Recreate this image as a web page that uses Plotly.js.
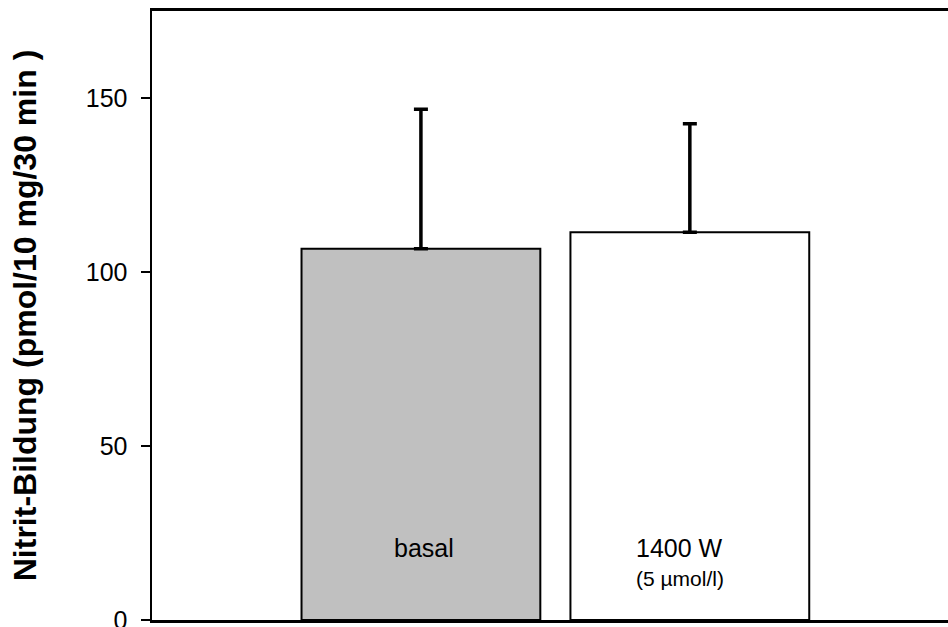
<!DOCTYPE html>
<html>
<head>
<meta charset="utf-8">
<script src="https://cdn.plot.ly/plotly-3.0.1.min.js"></script>
<style>html,body{margin:0;padding:0;background:#fff}#chart{width:948px;height:627px}</style>
</head>
<body>
<div id="chart"></div>
<script>
var categories = ["basal", "1400 W"];
var subLabels = ["", "(5 µmol/l)"];
var means = [106.7, 111.4];
var sdUp = [40.1, 31.2];
var barColors = ["#c0c0c0", "#ffffff"];
var yTicks = [0, 50, 100, 150];

var xPos = categories.map(function(c, i){ return i; });
var FONT = "Liberation Sans, Arial, sans-serif";

var trace = {
  type: "bar",
  x: xPos,
  y: means,
  width: 0.888,
  marker: {color: barColors, line: {color: "#000", width: 2}},
  error_y: {type: "data", symmetric: false, array: sdUp, arrayminus: [0, 0], color: "#000", thickness: 3.5, width: 7},
  hoverinfo: "none"
};

var labelShift = [3, -10];
var annotations = [];
categories.forEach(function(c, i){
  annotations.push({x: xPos[i], y: 0, xref: "x", yref: "y", yanchor: "middle", yshift: 72, xshift: labelShift[i],
    text: c, showarrow: false, font: {family: FONT, size: 25, color: "#000"}});
  if (subLabels[i]) {
    annotations.push({x: xPos[i], y: 0, xref: "x", yref: "y", yanchor: "middle", yshift: 42, xshift: labelShift[i],
      text: subLabels[i], showarrow: false, font: {family: FONT, size: 21, color: "#000"}});
  }
});

var layout = {
  width: 948, height: 627,
  margin: {l: 152, r: 0, t: 11, b: 7},
  paper_bgcolor: "#fff", plot_bgcolor: "#fff",
  showlegend: false,
  font: {family: FONT, color: "#000"},
  xaxis: {range: [-1, 1.96], showgrid: false, zeroline: false, showticklabels: false, ticks: "",
    showline: true, linecolor: "#000", linewidth: 3, mirror: true, fixedrange: true},
  yaxis: {range: [0, 175], tickvals: yTicks, ticktext: yTicks.map(String), showgrid: false, zeroline: false,
    ticks: "outside", ticklen: 9, tickwidth: 1.5, tickcolor: "#000", ticklabelstandoff: 8,
    ticklabeloverflow: "allow",
    tickfont: {size: 25, family: FONT},
    showline: true, linecolor: "#000", linewidth: 2.5,
    title: {text: "<b>Nitrit-Bildung (pmol/10 mg/30 min )</b>", standoff: 40,
      font: {size: 32, family: FONT}}},
  annotations: annotations
};

Plotly.newPlot("chart", [trace], layout, {staticPlot: true, displayModeBar: false});
</script>
</body>
</html>
